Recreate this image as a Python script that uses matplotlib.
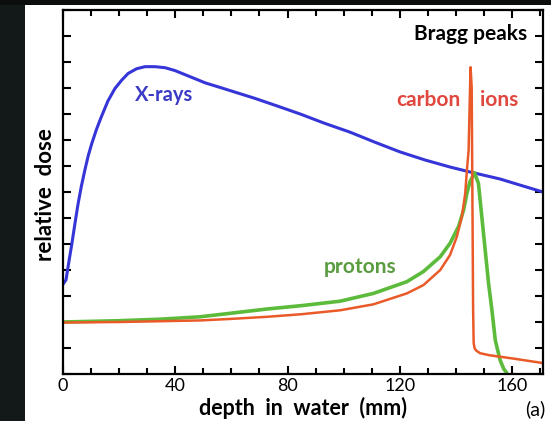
import matplotlib
matplotlib.use('Agg')
import matplotlib.pyplot as plt
from matplotlib.patches import Rectangle
from matplotlib.ticker import MultipleLocator
import numpy as np

plt.rcParams['font.family'] = ['Lato', 'DejaVu Sans']

# 曲线数据 (depth mm, relative dose)
xray_depth = [0, 1.07, 2.1, 3.2, 4.2, 5.3, 6.5, 7.8, 9.0, 10.3, 11.9, 13.5,
              16.0, 18.5, 20.9, 23.2, 26.2, 29.2, 32.8, 36.4, 39.9, 44.7, 50.6,
              56.6, 62.5, 68.4, 76, 84.5, 93, 102.3, 111, 120.1, 129, 137.9, 145,
              155.7, 163, 171]
xray_dose = [3.45, 3.62, 4.32, 5.04, 5.75, 6.5, 7.2, 7.85, 8.4, 8.88, 9.4, 9.85,
             10.5, 10.98, 11.3, 11.56, 11.74, 11.82, 11.82, 11.78, 11.67, 11.46,
             11.2, 11.0, 10.8, 10.6, 10.32, 10.0, 9.65, 9.3, 8.92, 8.54, 8.23,
             7.96, 7.77, 7.5, 7.26, 7.0]

proton_depth = [0, 20, 35, 48.8, 60, 72.7, 85, 98.7, 110.6, 122.5, 128.4, 134.4,
                137.9, 140.9, 142.7, 143.9, 145.0, 146.6, 148.0, 149.2, 150.4,
                151.6, 152.8, 154.0, 155.7, 157, 158.2]
proton_dose = [2.0, 2.05, 2.11, 2.2, 2.34, 2.5, 2.63, 2.8, 3.1, 3.55, 3.94, 4.51,
               5.03, 5.67, 6.3, 6.95, 7.4, 7.74, 7.33, 6.05, 4.77,
               3.49, 2.46, 1.3, 0.54, 0.2, 0.02]

carbon_depth = [0, 20, 48.8, 60, 72.7, 85, 98.7, 110.6, 122.5, 128.4, 134.4, 137.9,
                140.3, 142.1, 143.3, 143.9, 144.5, 144.9, 145.2, 145.6, 145.9,
                146.1, 146.3, 146.6, 147.2, 148.6, 152, 160, 171]
carbon_dose = [1.98, 2.0, 2.06, 2.12, 2.2, 2.3, 2.45, 2.68, 3.1, 3.42, 4.0, 4.58,
               5.28, 6.05, 6.95, 7.85, 8.6, 10.5, 11.8, 11.0, 6.0,
               2.5, 1.2, 1.0, 0.9, 0.8, 0.72, 0.6, 0.42]

xtick_values = [0, 40, 80, 120, 160]

W, H = 551, 421
fig = plt.figure(figsize=(W / 100, H / 100), dpi=100)
fig.patch.set_facecolor('white')

# 深色背景边条
fig.patches.append(Rectangle((0, 0), 25 / W, 1, transform=fig.transFigure,
                             facecolor='#131918', edgecolor='none', zorder=0))
fig.patches.append(Rectangle((0, 1 - 5 / H), 1, 5 / H, transform=fig.transFigure,
                             facecolor='#0c0e0e', edgecolor='none', zorder=0))

ax = fig.add_axes([63 / W, 1 - 374 / H, (543 - 63) / W, (374 - 10) / H])

ax.plot(xray_depth, xray_dose, color='#3535d8', lw=2.2, solid_capstyle='round',
        solid_joinstyle='round')
ax.plot(proton_depth, proton_dose, color='#5dbb3c', lw=2.6, solid_joinstyle='round')
ax.plot(carbon_depth, carbon_dose, color='#ea5a28', lw=1.8, solid_joinstyle='round')

ax.set_xlim(0, 171)
ax.set_ylim(0, 14)

ax.yaxis.set_major_locator(MultipleLocator(1))
ax.set_xticks(xtick_values, [str(v) for v in xtick_values])
ax.set_xticks(np.arange(0, 171, 10), minor=True)
ax.set_yticklabels([])
ax.tick_params(which='both', direction='in', top=True, right=True, width=1.5,
               color='black')
ax.tick_params(which='major', length=6, labelsize=13, pad=3)
ax.tick_params(which='minor', length=4)
for s in ax.spines.values():
    s.set_linewidth(1.6)

# 文字标注
ax.text(36, 10.73, 'X-rays', color='#3b3bc8', fontsize=14.5, fontweight='bold',
        ha='center', va='center')
ax.text(165.5, 13.08, 'Bragg peaks', color='black', fontsize=15,
        fontweight='bold', ha='right', va='center')
ax.text(130.3, 10.54, 'carbon', color='#e0473f', fontsize=15,
        fontweight='bold', ha='center', va='center')
ax.text(155.4, 10.54, 'ions', color='#e0473f', fontsize=15,
        fontweight='bold', ha='center', va='center')
ax.text(105.8, 4.1, 'protons', color='#5a9c40', fontsize=15,
        fontweight='bold', ha='center', va='center')

fig.text(303 / W, 1 - 408 / H, 'depth  in  water  (mm)', fontsize=15.5,
         fontweight='bold', ha='center', va='center')
fig.text(45 / W, 1 - 195 / H, 'relative  dose', fontsize=16,
         fontweight='bold', ha='center', va='center', rotation=90)
fig.text(535 / W, 1 - 409 / H, '(a)', fontsize=14, ha='center', va='center')

fig.savefig('out.png', dpi=100)
